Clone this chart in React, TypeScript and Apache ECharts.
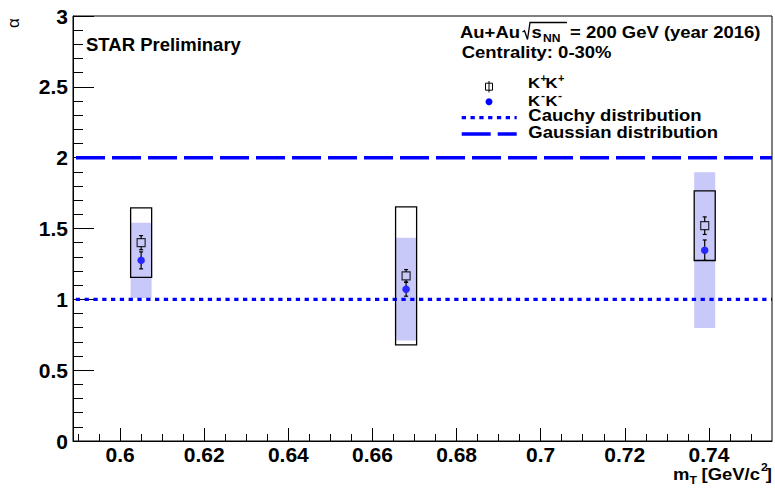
import React, { useEffect, useRef } from "react";
import * as echarts from "echarts";

// ---- data ----
const mT = [0.605, 0.668, 0.739];
const alphaKpKp = [1.4, 1.165, 1.52];
const statKpKp = [0.05, 0.045, 0.062];
const sysKpKp = [0.245, 0.487, 0.246];
const alphaKmKm = [1.275, 1.072, 1.347];
const statKmKm = [0.06, 0.05, 0.072];
const sysKmKm = [0.265, 0.363, 0.55];
const sysHalfWidth = 0.0025;
const cauchyAlpha = 1;
const gaussAlpha = 2;
const xRange = [0.5888, 0.755];
const yRange = [0, 3];
const xMajorTicks = [0.6, 0.62, 0.64, 0.66, 0.68, 0.7, 0.72, 0.74];
const yMajorTicks = [0, 0.5, 1, 1.5, 2, 2.5, 3];

function tickSteps(from: number, to: number, step: number): number[] {
  const out: number[] = [];
  const n = Math.round((to - from) / step);
  for (let i = 0; i <= n; i++) out.push(+(from + i * step).toFixed(4));
  return out;
}
const xMinorTicks = tickSteps(0.59, 0.75, 0.005);
const yMinorTicks = tickSteps(0, 3, 0.1);

const FONT = "'Liberation Sans', Arial, Helvetica, sans-serif";
const BLUE = "#0000ff";
const SX = 1.1;

function txt(x: number, y: number, text: string, o: any = {}) {
  return {
    type: "text",
    x,
    y,
    scaleX: o.scaleX ?? SX,
    silent: true,
    z: 100,
    style: {
      text,
      fontFamily: FONT,
      fontWeight: "bold",
      fontSize: 16.8,
      fill: "#000",
      align: o.align || "left",
      verticalAlign: "middle",
      ...(o.style || {}),
    },
  };
}

function errRender(gap: number) {
  return (params: any, api: any) => {
    const x = api.value(0);
    const y = api.value(1);
    const e = api.value(2);
    const c = api.coord([x, y]);
    const top = api.coord([x, y + e]);
    const bot = api.coord([x, y - e]);
    const st = { stroke: "#000", lineWidth: 1.2 };
    const children: any[] = [];
    if (top[1] < c[1] - gap) {
      children.push({ type: "line", shape: { x1: c[0], y1: top[1], x2: c[0], y2: c[1] - gap }, style: st });
      children.push({ type: "line", shape: { x1: c[0] - 2, y1: top[1], x2: c[0] + 2, y2: top[1] }, style: st });
    }
    if (bot[1] > c[1] + gap) {
      children.push({ type: "line", shape: { x1: c[0], y1: c[1] + gap, x2: c[0], y2: bot[1] }, style: st });
      children.push({ type: "line", shape: { x1: c[0] - 2, y1: bot[1], x2: c[0] + 2, y2: bot[1] }, style: st });
    }
    return { type: "group", children };
  };
}

function boxRender(style: any) {
  return (params: any, api: any) => {
    const x = api.value(0);
    const lo = api.value(1);
    const hi = api.value(2);
    const p1 = api.coord([x - sysHalfWidth, hi]);
    const p2 = api.coord([x + sysHalfWidth, lo]);
    return {
      type: "rect",
      shape: { x: p1[0], y: p1[1], width: p2[0] - p1[0], height: p2[1] - p1[1] },
      style,
    };
  };
}

export default function App() {
  const ref = useRef<HTMLDivElement>(null);
  useEffect(() => {
    if (!ref.current) return;
    const chart = echarts.init(ref.current, undefined, { renderer: "svg" });
    const option: any = {
      animation: false,
      backgroundColor: "#fff",
      textStyle: { fontFamily: FONT },
      grid: {
        left: 73,
        right: 3,
        top: 16,
        bottom: 49,
        show: true,
        borderColor: "#000",
        borderWidth: 1,
        containLabel: false,
        outerBoundsMode: "none",
      },
      xAxis: [
        {
          type: "value",
          min: xRange[0],
          max: xRange[1],
          position: "bottom",
          axisLine: { show: true, onZero: false, lineStyle: { color: "#000", width: 1 } },
          axisTick: { show: true, inside: true, length: 13, customValues: xMajorTicks, lineStyle: { color: "#000" } },
          axisLabel: {
            customValues: xMajorTicks,
            formatter: (v: number) => String(+v.toFixed(2)),
            fontSize: 21,
            fontWeight: "bold",
            color: "#000",
            fontFamily: FONT,
            margin: 3,
          },
          splitLine: { show: false },
        },
        {
          type: "value",
          min: xRange[0],
          max: xRange[1],
          position: "bottom",
          axisLine: { show: false },
          axisTick: { show: true, inside: true, length: 7, customValues: xMinorTicks, lineStyle: { color: "#000" } },
          axisLabel: { show: false },
          splitLine: { show: false },
        },
      ],
      yAxis: [
        {
          type: "value",
          min: yRange[0],
          max: yRange[1],
          position: "left",
          axisLine: { show: true, onZero: false, lineStyle: { color: "#000", width: 1 } },
          axisTick: { show: true, inside: true, length: 21, customValues: yMajorTicks, lineStyle: { color: "#000" } },
          axisLabel: {
            customValues: yMajorTicks,
            formatter: (v: number) => String(+v.toFixed(1)),
            fontSize: 21,
            fontWeight: "bold",
            color: "#000",
            fontFamily: FONT,
            margin: 5,
          },
          splitLine: { show: false },
        },
        {
          type: "value",
          min: yRange[0],
          max: yRange[1],
          position: "left",
          axisLine: { show: false },
          axisTick: { show: true, inside: true, length: 10, customValues: yMinorTicks, lineStyle: { color: "#000" } },
          axisLabel: { show: false },
          splitLine: { show: false },
        },
      ],
      series: [
        {
          name: "K-K- sys",
          type: "custom",
          xAxisIndex: 0,
          yAxisIndex: 0,
          z: 1,
          silent: true,
          renderItem: boxRender({ fill: "#c9c9f9" }),
          encode: { x: 0, y: [1, 2] },
          data: mT.map((x, i) => [x, alphaKmKm[i] - sysKmKm[i], alphaKmKm[i] + sysKmKm[i]]),
        },
        {
          name: "Cauchy distribution",
          type: "line",
          xAxisIndex: 0,
          yAxisIndex: 0,
          z: 2,
          symbol: "none",
          silent: true,
          lineStyle: { color: BLUE, width: 3.3, type: [4.3, 4.5], dashOffset: 6 },
          data: [
            [xRange[0], cauchyAlpha],
            [xRange[1], cauchyAlpha],
          ],
        },
        {
          name: "Gaussian distribution",
          type: "line",
          xAxisIndex: 0,
          yAxisIndex: 0,
          z: 2,
          symbol: "none",
          silent: true,
          lineStyle: { color: BLUE, width: 3.5, type: [29, 7], dashOffset: 33 },
          data: [
            [xRange[0], gaussAlpha],
            [xRange[1], gaussAlpha],
          ],
        },
        {
          name: "K+K+ sys",
          type: "custom",
          xAxisIndex: 0,
          yAxisIndex: 0,
          z: 3,
          silent: true,
          renderItem: boxRender({ fill: "none", stroke: "#000", lineWidth: 1.3 }),
          encode: { x: 0, y: [1, 2] },
          data: mT.map((x, i) => [x, alphaKpKp[i] - sysKpKp[i], alphaKpKp[i] + sysKpKp[i]]),
        },
        {
          name: "K+K+ stat",
          type: "custom",
          xAxisIndex: 0,
          yAxisIndex: 0,
          z: 4,
          silent: true,
          renderItem: errRender(4),
          encode: { x: 0, y: 1 },
          data: mT.map((x, i) => [x, alphaKpKp[i], statKpKp[i]]),
        },
        {
          name: "K-K- stat",
          type: "custom",
          xAxisIndex: 0,
          yAxisIndex: 0,
          z: 4,
          silent: true,
          renderItem: errRender(3.5),
          encode: { x: 0, y: 1 },
          data: mT.map((x, i) => [x, alphaKmKm[i], statKmKm[i]]),
        },
        {
          name: "K+K+",
          type: "scatter",
          xAxisIndex: 0,
          yAxisIndex: 0,
          z: 5,
          symbol: "rect",
          symbolSize: 8,
          itemStyle: { color: "rgba(0,0,0,0)", borderColor: "#000", borderWidth: 1.2 },
          data: mT.map((x, i) => [x, alphaKpKp[i]]),
        },
        {
          name: "K-K-",
          type: "scatter",
          xAxisIndex: 0,
          yAxisIndex: 0,
          z: 5,
          symbol: "circle",
          symbolSize: 7.5,
          itemStyle: { color: BLUE },
          data: mT.map((x, i) => [x, alphaKmKm[i]]),
        },
      ],
      graphic: [
        // y-axis title
        {
          type: "text",
          x: 13.5,
          y: 23,
          rotation: Math.PI / 2,
          silent: true,
          style: { text: "α", fontFamily: FONT, fontSize: 17, fill: "#000", align: "center", verticalAlign: "middle" },
        },
        txt(86, 44.7, "STAR Preliminary", { scaleX: 1, style: { fontSize: 18.5 } }),
        txt(460, 32.5, "Au+Au"),
        {
          type: "polyline",
          silent: true,
          shape: { points: [[522.5, 32], [524.5, 30.8], [527.5, 39.5], [530, 22.5], [567, 22.5]] },
          style: { stroke: "#000", lineWidth: 1.3, fill: null },
        },
        txt(531.5, 32.5, "s"),
        txt(543, 38.5, "NN", { style: { fontSize: 11 } }),
        txt(570, 32.5, "= 200 GeV (year 2016)"),
        txt(461.7, 52.5, "Centrality: 0-30%"),
        // legend markers
        {
          type: "line",
          silent: true,
          shape: { x1: 489, y1: 81, x2: 489, y2: 92.5 },
          style: { stroke: "#000", lineWidth: 1 },
        },
        {
          type: "rect",
          silent: true,
          shape: { x: 485.5, y: 83.2, width: 7, height: 7 },
          style: { stroke: "#000", lineWidth: 1, fill: "none" },
        },
        {
          type: "circle",
          silent: true,
          shape: { cx: 489, cy: 101.7, r: 3.5 },
          style: { fill: BLUE },
        },
        {
          type: "line",
          silent: true,
          shape: { x1: 461.7, y1: 117.7, x2: 516.7, y2: 117.7 },
          style: { stroke: BLUE, lineWidth: 3.3, lineDash: [4.3, 4.5] },
        },
        {
          type: "line",
          silent: true,
          shape: { x1: 461.7, y1: 134, x2: 516.7, y2: 134 },
          style: { stroke: BLUE, lineWidth: 3.5, lineDash: [29, 7] },
        },
        // legend texts
        txt(528, 82.8, "K", { style: { fontSize: 15.2 } }),
        txt(540.5, 78.3, "+", { style: { fontSize: 10 } }),
        txt(545.5, 82.8, "K", { style: { fontSize: 15.2 } }),
        txt(558, 78.3, "+", { style: { fontSize: 10 } }),
        txt(528, 100.5, "K", { style: { fontSize: 15.2 } }),
        txt(541, 95, "-", { style: { fontSize: 11 } }),
        txt(545.5, 100.5, "K", { style: { fontSize: 15.2 } }),
        txt(558, 95, "-", { style: { fontSize: 11 } }),
        txt(528.3, 115.5, "Cauchy distribution"),
        txt(528.3, 132, "Gaussian distribution"),
        // x-axis title
        txt(673, 474, "m"),
        txt(689.5, 480, "T", { style: { fontSize: 11 } }),
        txt(760, 474, "[GeV/c", { align: "right" }),
        txt(761, 467, "2", { style: { fontSize: 11 } }),
        txt(772, 474, "]", { align: "right" }),
      ],
    };
    chart.setOption(option);
    return () => chart.dispose();
  }, []);
  return (
    <div
      ref={ref}
      style={{ position: "fixed", left: 0, top: 0, width: 775, height: 490, background: "#fff" }}
    />
  );
}
